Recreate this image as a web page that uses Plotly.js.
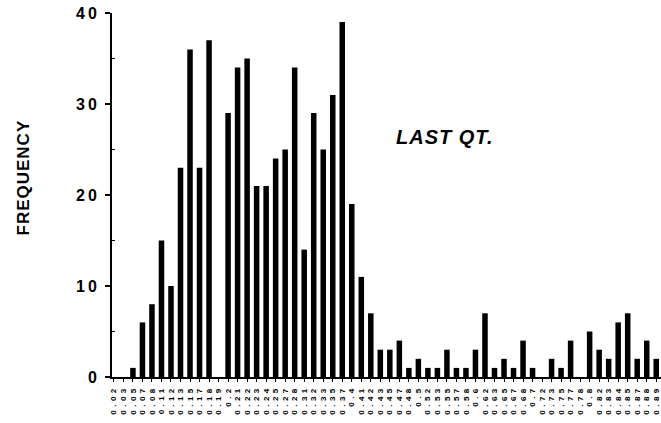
<!DOCTYPE html>
<html>
<head>
<meta charset="utf-8">
<script src="https://cdn.plot.ly/plotly-3.0.1.min.js"></script>
<style>
  html, body { margin: 0; padding: 0; background: #fff; }
  #chart { width: 661px; height: 423px; }
  .xtick text { letter-spacing: 3.5px; }
  .ytick text { letter-spacing: 3px; }
  .annotation-text { letter-spacing: 1px; }
</style>
</head>
<body>
<div id="chart"></div>
<script>
// QT interval bins (category labels)
const qtBins = [
  "0.02","0.03","0.05","0.07","0.08",
  "0.11","0.12","0.13","0.15","0.17","0.18","0.19",
  "0.2",
  "0.21","0.22","0.23","0.24","0.25","0.27","0.28","0.31","0.32","0.33","0.35","0.37",
  "0.4",
  "0.41","0.42","0.43","0.45","0.47","0.48",
  "0.5",
  "0.52","0.53","0.55","0.57","0.58",
  "0.6",
  "0.62","0.63","0.65","0.67","0.68",
  "0.7",
  "0.72","0.73","0.75","0.77","0.78",
  "0.8",
  "0.82","0.83","0.84","0.85","0.87","0.88","0.89"
];

// Frequency per bin
const frequency = [
  0, 0, 1, 6, 8,
  15, 10, 23, 36, 23, 37, 0,
  29,
  34, 35, 21, 21, 24, 25, 34, 14, 29, 25, 31, 39,
  19,
  11, 7, 3, 3, 4, 1,
  2,
  1, 1, 3, 1, 1,
  3,
  7, 1, 2, 1, 4,
  1,
  0, 2, 1, 4, 0,
  5,
  3, 2, 6, 7, 2, 4, 2
];

const yTicks = [0, 10, 20, 30, 40];
const chartLabel = "LAST QT.";
const yLabel = "FREQUENCY";

const trace = {
  type: 'bar',
  x: qtBins,
  y: frequency,
  marker: { color: '#000000', line: { width: 0 } },
  hoverinfo: 'x+y'
};

const layout = {
  width: 661,
  height: 423,
  margin: { l: 112, r: 0, t: 13, b: 46, pad: 0 },
  paper_bgcolor: '#ffffff',
  plot_bgcolor: '#ffffff',
  showlegend: false,
  bargap: 0.42,
  font: { family: 'Arial, "Liberation Sans", sans-serif', color: '#000' },
  xaxis: {
    type: 'category',
    range: [-0.2, 57.5],
    tickmode: 'array',
    tickvals: qtBins,
    ticktext: qtBins,
    showgrid: false,
    zeroline: false,
    showline: true,
    linecolor: '#000',
    linewidth: 2,
    ticks: 'outside',
    ticklen: 3,
    tickwidth: 1,
    tickcolor: '#000',
    tickangle: -90,
    tickfont: { size: 8, family: 'Arial, "Liberation Sans", sans-serif', weight: 'bold', color: '#000' },
    automargin: false
  },
  yaxis: {
    range: [0, 40],
    tickvals: yTicks,
    ticktext: yTicks.map(String),
    showgrid: false,
    zeroline: false,
    showline: true,
    linecolor: '#000',
    linewidth: 2,
    ticks: 'outside',
    ticklen: 5,
    tickwidth: 2,
    tickcolor: '#000',
    ticklabelstandoff: 2,
    tickfont: { size: 16, family: 'Arial, "Liberation Sans", sans-serif', weight: 'bold', color: '#000' },
    minor: { tick0: 5, dtick: 10, ticks: 'inside', ticklen: 3, tickwidth: 1, tickcolor: '#000' },
    automargin: false
  },
  annotations: [
    {
      text: '<b><i>' + chartLabel + '</i></b>',
      xref: 'paper', yref: 'paper',
      x: 0.513, y: 0.66,
      xanchor: 'left', yanchor: 'middle',
      showarrow: false,
      font: { size: 20, family: 'Arial, "Liberation Sans", sans-serif', color: '#000' }
    },
    {
      text: '<b>' + yLabel + '</b>',
      xref: 'paper', yref: 'paper',
      x: -0.161, y: 0.547,
      xanchor: 'center', yanchor: 'middle',
      textangle: -90,
      showarrow: false,
      font: { size: 17, family: 'Arial, "Liberation Sans", sans-serif', color: '#000' }
    }
  ]
};

Plotly.newPlot('chart', [trace], layout, { staticPlot: true, displayModeBar: false });
</script>
</body>
</html>
